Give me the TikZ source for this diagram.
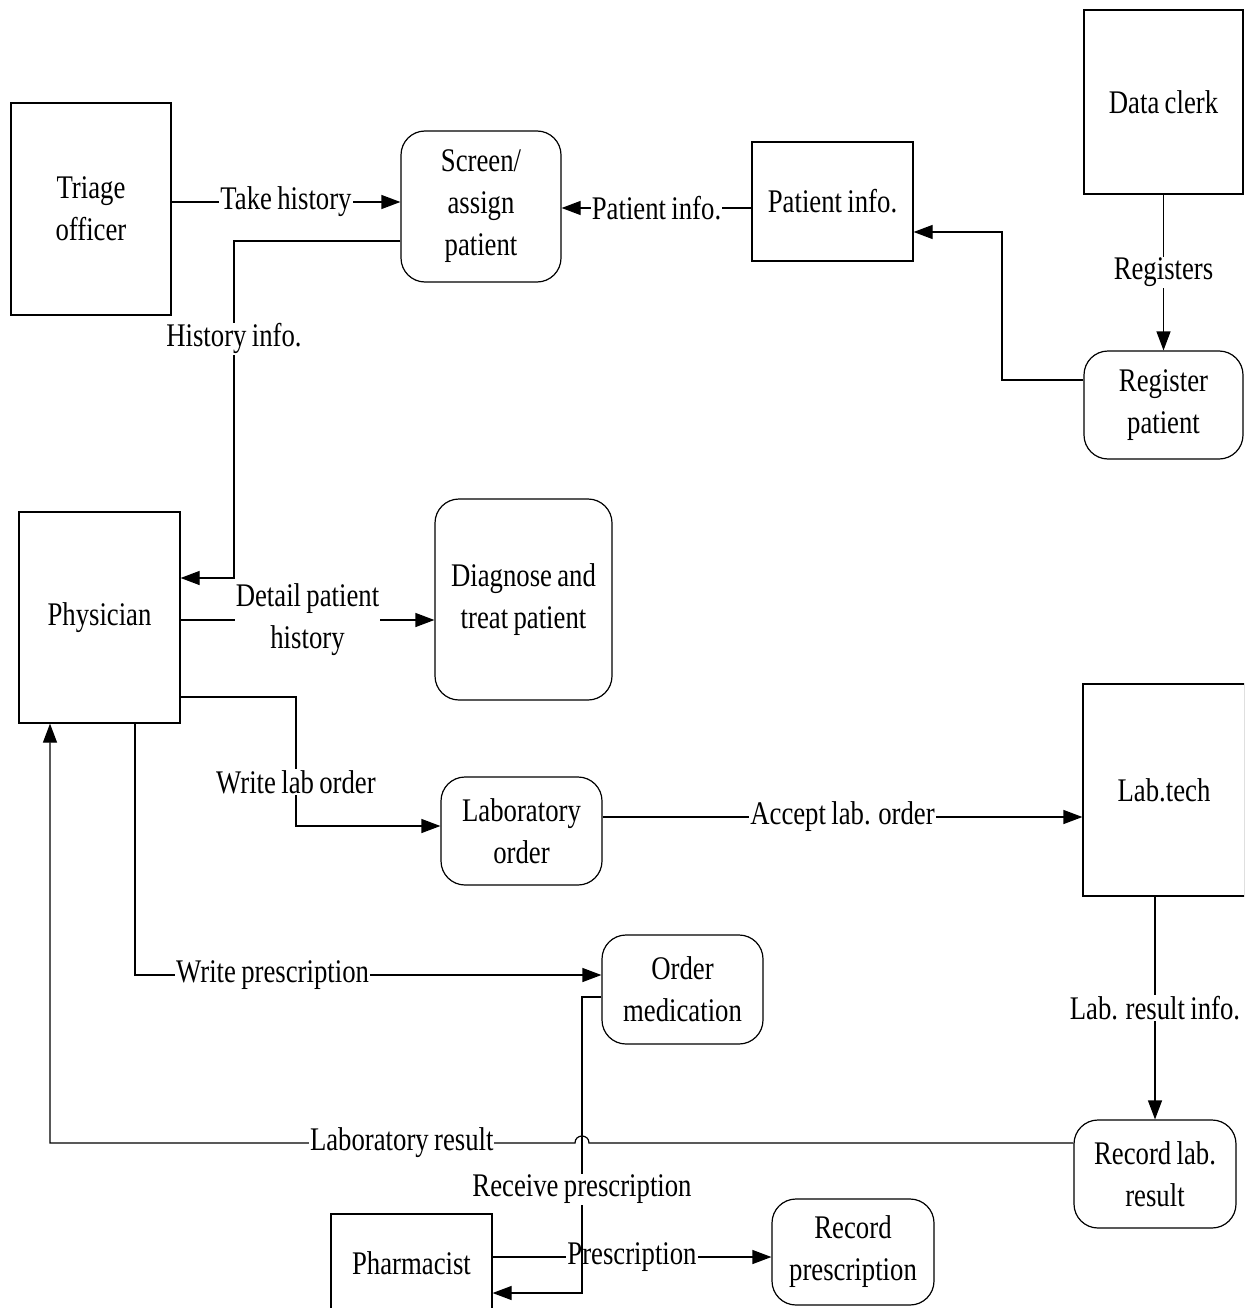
\documentclass[tikz,border=0pt]{standalone}
\usepackage{fontspec}
\setmainfont{Liberation Serif}[FakeStretch=0.81,WordSpace=0.8]
\usetikzlibrary{arrows.meta}
\begin{document}
\begin{tikzpicture}[x=1pt,y=-1pt,line width=1.2pt,
  font=\fontsize{33}{42}\selectfont,
  sz/.style 2 args={minimum width=#1pt,minimum height=#2pt},
  actor/.style={draw,rectangle,inner sep=0pt,align=center},
  proc/.style={draw,rectangle,rounded corners=24pt,inner sep=0pt,align=center},
  flow/.style={-{Triangle[length=19pt,width=14pt]}},
  lbl/.style={fill=white,inner xsep=1pt,inner ysep=1pt,align=center}]
\useasboundingbox (0,0) rectangle (1244,1308);
\clip (0,0) rectangle (1244,1308);

% external entities
\node[actor,sz={160}{212}] (triage) at (91,209) {Triage\\officer};
\node[actor,sz={161}{119}] (pinfo) at (832.5,201.5) {Patient info.};
\node[actor,sz={159}{184}] (clerk) at (1163.5,102) {Data clerk};
\node[actor,sz={161}{211}] (phys) at (99.5,617.5) {Physician};
\node[actor,sz={162}{212}] (labtech) at (1164,790) {Lab.tech};
\node[actor,sz={161}{98}] (pharm) at (411.5,1263) {Pharmacist};

% processes
\node[proc,sz={160}{151}] (screen) at (481,206.5) {Screen/\\assign\\patient};
\node[proc,sz={159}{108}] (regp) at (1163.5,405) {Register\\patient};
\node[proc,sz={177}{201}] (diag) at (523.5,599.5) {Diagnose and\\treat patient};
\node[proc,sz={161}{108}] (laborder) at (521.5,831) {Laboratory\\order};
\node[proc,sz={161}{109}] (ordmed) at (682.5,989.5) {Order\\medication};
\node[proc,sz={162}{108}] (reclab) at (1155,1174) {Record lab.\\result};
\node[proc,sz={162}{106}] (recpres) at (853,1252) {Record\\prescription};

% data flows
\draw[flow] (triage.east |- 0,202) -- node[lbl]{Take history} (screen.west |- 0,202);
\draw[flow] (screen.west |- 0,241) -- (234,241)
  -- node[lbl,pos=0.29]{History info.} (234,578) -- (phys.east |- 0,578);
\draw[flow] (pinfo.west |- 0,208) -- node[lbl]{Patient info.} (screen.east |- 0,208);
\draw[flow] (regp.west |- 0,380) -- (1002,380) -- (1002,232) -- (pinfo.east |- 0,232);
\draw[flow] (clerk.south) -- node[lbl]{Registers} (regp.north);
\draw[flow] (phys.east |- 0,620) -- node[lbl]{Detail patient\\history} (diag.west |- 0,620);
\draw[flow] (phys.east |- 0,697) -- (296,697)
  -- node[lbl,pos=0.66]{Write lab order} (296,826) -- (laborder.west |- 0,826);
\draw[flow] (laborder.east |- 0,817) -- node[lbl]{Accept lab. order} (labtech.west |- 0,817);
\draw[flow] (labtech.south -| 1155,0) -- node[lbl]{Lab. result info.} (reclab.north);
\draw[flow] (phys.south -| 135,0) -- (135,975)
  -- node[lbl,pos=0.295]{Write prescription} (ordmed.west |- 0,975);
\draw[flow] (reclab.west |- 0,1143) -- (589,1143)
  .. controls (589,1133.7) and (575,1133.7) .. (575,1143)
  -- node[lbl,pos=0.33]{Laboratory result} (50,1143) -- (phys.south -| 50,0);
\draw[flow] (pharm.east |- 0,1257) -- node[lbl]{Prescription} (recpres.west |- 0,1257);
\draw[flow] (ordmed.west |- 0,997) -- (582,997)
  -- node[lbl,pos=0.65]{Receive prescription} (582,1293) -- (pharm.east |- 0,1293);
\end{tikzpicture}
\end{document}
